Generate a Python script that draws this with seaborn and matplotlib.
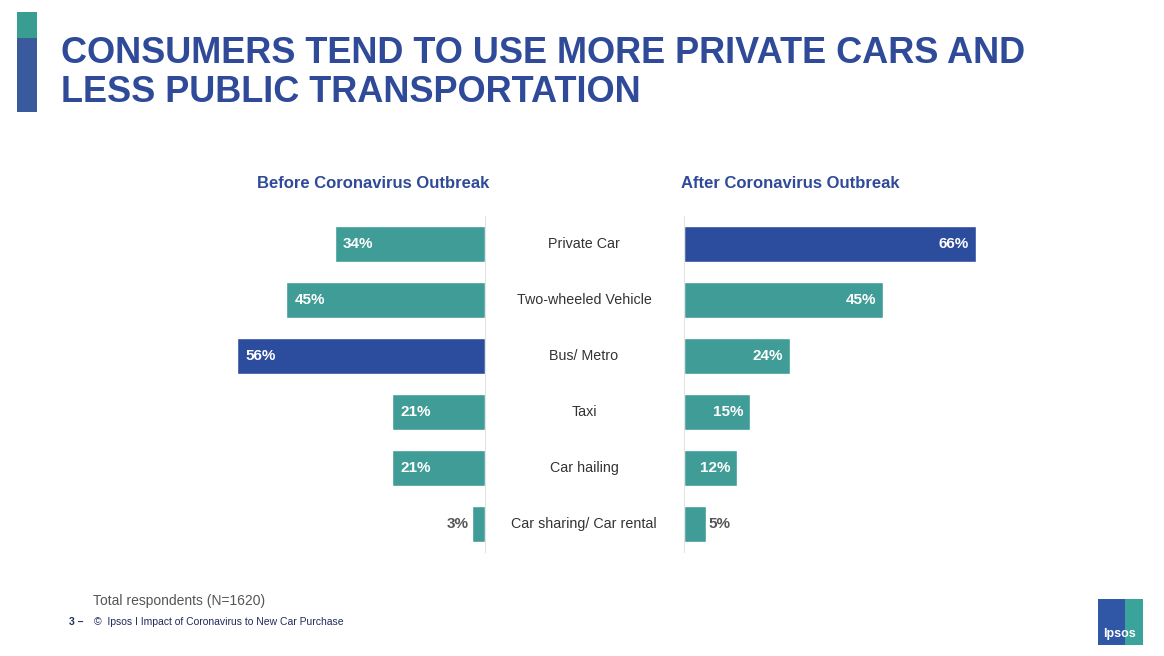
import matplotlib
matplotlib.use("Agg")
import matplotlib.pyplot as plt
import seaborn as sns
import pandas as pd
from matplotlib.patches import Rectangle

categories = ["Private Car", "Two-wheeled Vehicle", "Bus/ Metro", "Taxi", "Car hailing", "Car sharing/ Car rental"]
before = [34, 45, 56, 21, 21, 3]
after = [66, 45, 24, 15, 12, 5]
title = "CONSUMERS TEND TO USE MORE PRIVATE CARS AND\nLESS PUBLIC TRANSPORTATION"
left_header = "Before Coronavirus Outbreak"
right_header = "After Coronavirus Outbreak"
note = "Total respondents (N=1620)"
footer = "©  Ipsos I Impact of Coronavirus to New Car Purchase"

TEAL = "#3f9c96"
NAVY = "#2c4c9e"
TITLE = "#2e4a98"

sns.set_theme(style="white")
plt.rcParams["font.family"] = ["Liberation Sans", "DejaVu Sans"]

W, H = 1164, 656
fig = plt.figure(figsize=(W / 100, H / 100), dpi=100)
fig.patch.set_facecolor("white")

def fx(px):
    return px / W

def fy(py):
    return 1 - py / H

top, bot = 216, 552
axL = fig.add_axes([fx(200), fy(bot), fx(485 - 200), (bot - top) / H])
axR = fig.add_axes([fx(684), fy(bot), fx(1000 - 684), (bot - top) / H])

df = pd.DataFrame({"cat": categories, "before": before, "after": after})

def colors_for(vals):
    m = max(vals)
    return [NAVY if v == m else TEAL for v in vals]

sns.barplot(data=df, x="before", y="cat", hue="cat", palette=colors_for(before),
            legend=False, ax=axL, width=0.64, saturation=1, orient="h")
sns.barplot(data=df, x="after", y="cat", hue="cat", palette=colors_for(after),
            legend=False, ax=axR, width=0.64, saturation=1, orient="h")

axL.set_xlim(285 / 4.42, 0)
axR.set_xlim(0, 316 / 4.42)
for ax in (axL, axR):
    ax.set_ylim(5.5, -0.5)
    ax.set_xlabel("")
    ax.set_ylabel("")
    ax.set_xticks([])
    ax.set_yticks([])
    ax.set_facecolor("none")
    for s in ax.spines.values():
        s.set_visible(False)
axL.spines["right"].set_visible(True)
axL.spines["right"].set_color("#e3e3e3")
axL.spines["right"].set_linewidth(0.8)
axR.spines["left"].set_visible(True)
axR.spines["left"].set_color("#e3e3e3")
axR.spines["left"].set_linewidth(0.8)

# value labels
for i, v in enumerate(before):
    if v >= 10:
        axL.annotate(f"{v}%", (v, i), xytext=(6, 0), textcoords="offset points",
                     ha="left", va="center", color="white", fontsize=11, fontweight="bold")
    else:
        axL.annotate(f"{v}%", (v, i), xytext=(-2, 0), textcoords="offset points",
                     ha="right", va="center", color="#555555", fontsize=11, fontweight="bold")
for i, v in enumerate(after):
    if v >= 10:
        axR.annotate(f"{v}%", (v, i), xytext=(-5, 0), textcoords="offset points",
                     ha="right", va="center", color="white", fontsize=11, fontweight="bold")
    else:
        axR.annotate(f"{v}%", (v, i), xytext=(2, 0), textcoords="offset points",
                     ha="left", va="center", color="#555555", fontsize=11, fontweight="bold")

# category labels in the middle
for i, c in enumerate(categories):
    axL.annotate(c, (0, i), xytext=(584 - 485, 0), textcoords="offset pixels",
                 ha="center", va="center", color="#333333", fontsize=10.3)

# headers
fig.text(fx(373), fy(183), left_header, ha="center", va="center", color=TITLE,
         fontsize=12, fontweight="bold")
fig.text(fx(790), fy(183), right_header, ha="center", va="center", color=TITLE,
         fontsize=12, fontweight="bold")

# title and accent bar
fig.text(fx(61), fy(73), title, ha="left", va="center", color=TITLE,
         fontsize=26, fontweight="bold", linespacing=1.15)
fig.patches.append(Rectangle((fx(17), fy(38)), fx(20), 26 / H, transform=fig.transFigure,
                             facecolor="#3a9d92", edgecolor="none"))
fig.patches.append(Rectangle((fx(17), fy(112)), fx(20), 74 / H, transform=fig.transFigure,
                             facecolor="#3a5a9e", edgecolor="none"))

# footer
fig.text(fx(93), fy(601), note, ha="left", va="center", color="#555555", fontsize=10)
fig.text(fx(69), fy(622), "3 –", ha="left", va="center", color="#1f2a5c", fontsize=7.5, fontweight="bold")
fig.text(fx(94), fy(622), footer, ha="left", va="center", color="#1f2a5c", fontsize=7.5)

# logo
fig.patches.append(Rectangle((fx(1098), fy(645)), fx(30), 46 / H, transform=fig.transFigure,
                             facecolor="#2f57a6", edgecolor="none"))
fig.patches.append(Rectangle((fx(1125), fy(645)), fx(18), 46 / H, transform=fig.transFigure,
                             facecolor="#3aa39a", edgecolor="none"))
fig.text(fx(1120), fy(634), "Ipsos", ha="center", va="center", color="white",
         fontsize=9, fontweight="bold")

fig.savefig("out.png", dpi=100)
